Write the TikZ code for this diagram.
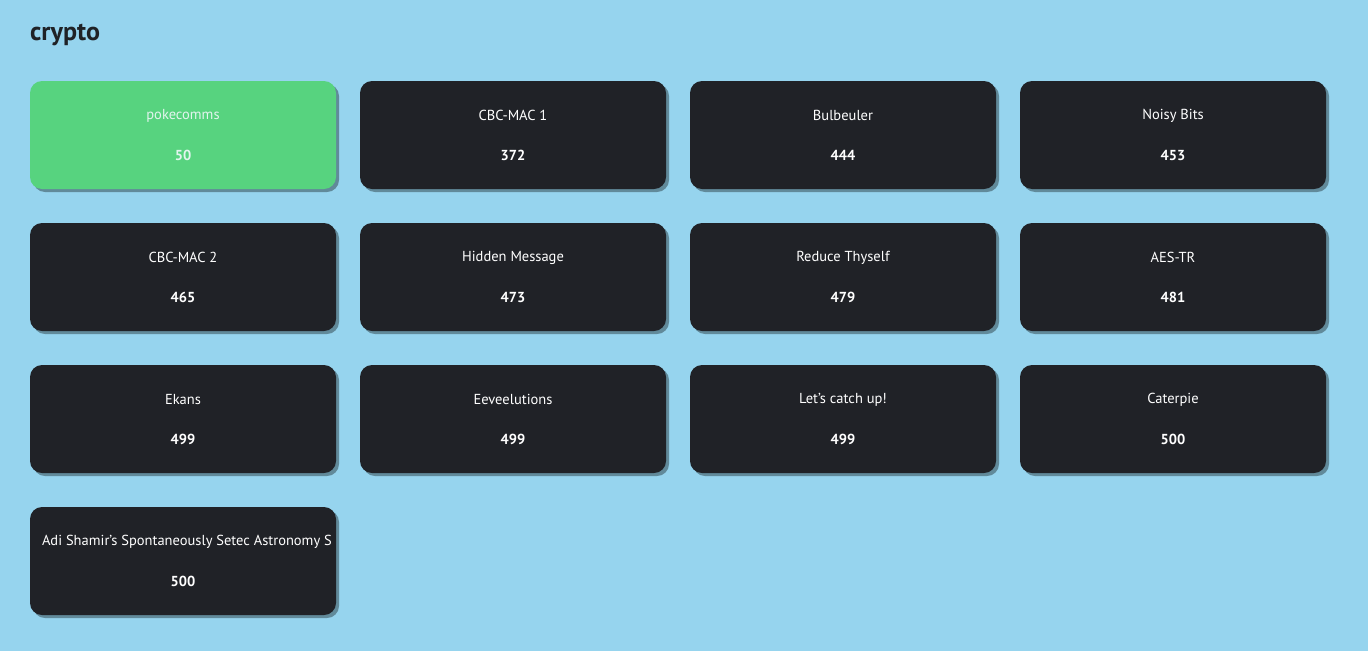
\documentclass[tikz,border=0pt]{standalone}
\usepackage{fontspec}
\setmainfont{PT Sans}
\usetikzlibrary{shadows}
\definecolor{skyback}{HTML}{96D4EE}
\definecolor{cardgreen}{HTML}{57D37F}
\definecolor{carddark}{HTML}{202227}
\definecolor{solvedtext}{HTML}{E2F4EE}
\definecolor{headink}{HTML}{1F2226}
\tikzset{
  card/.style={rectangle, rounded corners=12pt, fill=carddark, minimum width=306pt, minimum height=108pt, inner sep=0pt,
    drop shadow={shadow xshift=3pt, shadow yshift=-3pt, fill=black, opacity=.35}},
  solved/.style={fill=cardgreen},
  cardtitle/.style={text=white, font=\fontsize{14.5}{16}\selectfont, inner sep=0pt},
  cardpts/.style={text=white, font=\fontsize{14.5}{16}\selectfont\bfseries, inner sep=0pt}
}
\newcommand\ctfcard[6]{% name, x, y, extra style, title, points
  \node[card, #4] (#1) at (#2,#3) {};
  \node[cardtitle] (#1t) at ([yshift=19.5pt]#1.center) {#5};
  \node[cardpts] (#1p) at ([yshift=-20.5pt]#1.center) {#6};
}

\begin{document}
\begin{tikzpicture}[x=1pt, y=-1pt]
		%%%%% BACKGROUND %%%%%
		\fill[skyback] (0,0) rectangle (1368,651);
		\useasboundingbox (0,0) rectangle (1368,651);
		
		\node[anchor=base west, text=headink, inner sep=0pt, font=\fontsize{26}{28}\selectfont\bfseries] (category) at (30,40) {crypto};
		
		%%%%% ROW 1 %%%%%
		\ctfcard{c1}{183}{135}{solved}{\color{solvedtext}pokecomms}{\color{solvedtext}50}
		\ctfcard{c2}{513}{135}{}{CBC-MAC 1}{372}
		\ctfcard{c3}{843}{135}{}{Bulbeuler}{444}
		\ctfcard{c4}{1173}{135}{}{Noisy Bits}{453}
		
		%%%%% ROW 2 %%%%%
		\ctfcard{c5}{183}{277}{}{CBC-MAC 2}{465}
		\ctfcard{c6}{513}{277}{}{Hidden Message}{473}
		\ctfcard{c7}{843}{277}{}{Reduce Thyself}{479}
		\ctfcard{c8}{1173}{277}{}{AES-TR}{481}
		
		%%%%% ROW 3 %%%%%
		\ctfcard{c9}{183}{419}{}{Ekans}{499}
		\ctfcard{c10}{513}{419}{}{Eeveelutions}{499}
		\ctfcard{c11}{843}{419}{}{Let's catch up!}{499}
		\ctfcard{c12}{1173}{419}{}{Caterpie}{500}
		
		%%%%% ROW 4 %%%%%
		\node[card] (c13) at (183,561) {};
		\begin{scope}
			\clip[rounded corners=12pt] (c13.south west) rectangle (c13.north east);
			\node[cardtitle, anchor=west] (c13t) at ([xshift=12pt, yshift=19.5pt]c13.west) {Adi Shamir's Spontaneously Setec Astronomy S};
		\end{scope}
		\node[cardpts] (c13p) at ([yshift=-20.5pt]c13.center) {500};
\end{tikzpicture}
\end{document}
